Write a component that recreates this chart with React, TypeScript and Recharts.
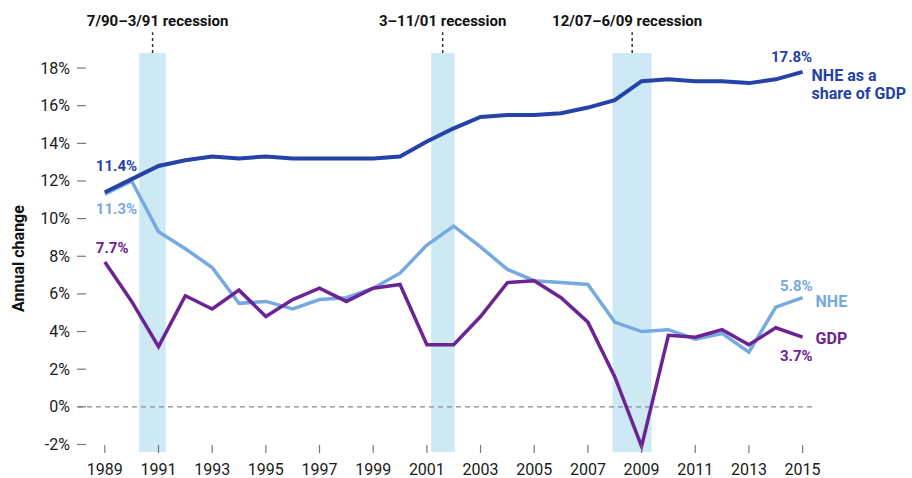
import React from "react";
import {
  LineChart,
  Line,
  XAxis,
  YAxis,
  ReferenceArea,
  ReferenceLine,
  Label,
} from "recharts";

// years on the x axis
const years = [
  1989, 1990, 1991, 1992, 1993, 1994, 1995, 1996, 1997, 1998, 1999, 2000, 2001, 2002,
  2003, 2004, 2005, 2006, 2007, 2008, 2009, 2010, 2011, 2012, 2013, 2014, 2015,
];

// NHE as a share of GDP
const nheShare = [
  11.4, 12.1, 12.8, 13.1, 13.3, 13.2, 13.3, 13.2, 13.2, 13.2, 13.2, 13.3, 14.1, 14.8,
  15.4, 15.5, 15.5, 15.6, 15.9, 16.3, 17.3, 17.4, 17.3, 17.3, 17.2, 17.4, 17.8,
];

// NHE annual change
const nheGrowth = [
  11.3, 12.0, 9.3, 8.4, 7.4, 5.5, 5.6, 5.2, 5.7, 5.8, 6.3, 7.1, 8.6, 9.6,
  8.5, 7.3, 6.7, 6.6, 6.5, 4.5, 4.0, 4.1, 3.6, 3.9, 2.9, 5.3, 5.8,
];

// GDP annual change
const gdpGrowth = [
  7.7, 5.6, 3.2, 5.9, 5.2, 6.2, 4.8, 5.7, 6.3, 5.6, 6.3, 6.5, 3.3, 3.3,
  4.8, 6.6, 6.7, 5.8, 4.5, 1.6, -2.1, 3.8, 3.7, 4.1, 3.3, 4.2, 3.7,
];

const yTicks = [-2, 0, 2, 4, 6, 8, 10, 12, 14, 16, 18];
const xTicks = [1989, 1991, 1993, 1995, 1997, 1999, 2001, 2003, 2005, 2007, 2009, 2011, 2013, 2015];

// recession bands (start, end in fractional years) and their labels
const recessions = [
  { from: 1990.28, to: 1991.27, mark: 1990.78, label: "7/90\u20133/91 recession", shift: 5 },
  { from: 2001.16, to: 2002.04, mark: 2001.59, label: "3\u201311/01 recession", shift: 0 },
  { from: 2007.92, to: 2009.37, mark: 2008.65, label: "12/07\u20136/09 recession", shift: -5 },
];

const data = years.map((year, i) => ({
  year,
  share: nheShare[i],
  nhe: nheGrowth[i],
  gdp: gdpGrowth[i],
}));

const DARK = "#2442a8";
const LIGHT = "#76a9df";
const PURPLE = "#6c2393";
const BAND = "#cde9f4";
const FONT = "Roboto, 'DejaVu Sans', sans-serif";

const YTick = (props: any) => {
  const { x, y, payload } = props;
  return (
    <g>
      <line x1={x - 1} x2={x + 8} y1={y} y2={y} stroke="#777" strokeWidth={1.2} />
      <text
        x={x - 8}
        y={y}
        textAnchor="end"
        dominantBaseline="central"
        fontSize={16}
        fontFamily={FONT}
        fill="#1a1a1a"
      >
        {payload.value}%
      </text>
    </g>
  );
};

const XTick = (props: any) => {
  const { x, y, payload } = props;
  return (
    <g>
      <line x1={x} x2={x} y1={y - 7} y2={y + 1} stroke="#777" strokeWidth={1.2} />
      <text x={x} y={y + 23} textAnchor="middle" fontSize={16} fontFamily={FONT} fill="#1a1a1a">
        {payload.value}
      </text>
    </g>
  );
};

// label text at given offset from a point
const tag = (x: number, y: number, text: string, color: string, anchor: string, size = 15) => (
  <text
    key={text + x + y}
    x={x}
    y={y}
    textAnchor={anchor as any}
    dominantBaseline="central"
    fontSize={size}
    fontWeight={700}
    fontFamily={FONT}
    fill={color}
  >
    {text}
  </text>
);

const last = years.length - 1;

const shareLabels = (props: any) => {
  const { x, y, index } = props;
  if (index === 0) return <g>{tag(x - 9, y - 26, "11.4%", DARK, "start")}</g>;
  if (index === last)
    return (
      <g>
        {tag(x - 11, y - 15, "17.8%", DARK, "middle")}
        {tag(x + 9, y + 4, "NHE as a", DARK, "start", 16)}
        {tag(x + 9, y + 22, "share of GDP", DARK, "start", 16)}
      </g>
    );
  return <g />;
};

const nheLabels = (props: any) => {
  const { x, y, index } = props;
  if (index === 0) return <g>{tag(x - 9, y + 15, "11.3%", LIGHT, "start")}</g>;
  if (index === last)
    return (
      <g>
        {tag(x + 10, y - 12, "5.8%", LIGHT, "end")}
        {tag(x + 13, y + 4, "NHE", LIGHT, "start", 16)}
      </g>
    );
  return <g />;
};

const gdpLabels = (props: any) => {
  const { x, y, index } = props;
  if (index === 0) return <g>{tag(x - 9, y - 14, "7.7%", PURPLE, "start")}</g>;
  if (index === last)
    return (
      <g>
        {tag(x + 13, y + 1, "GDP", PURPLE, "start", 16)}
        {tag(x + 10, y + 19, "3.7%", PURPLE, "end")}
      </g>
    );
  return <g />;
};

const recessionLabel = (text: string, shift: number) => (props: any) => {
  const vb = props.viewBox || { x: 0, y: 0 };
  return (
    <text
      x={vb.x + shift}
      y={vb.y - 6}
      textAnchor="middle"
      fontSize={15}
      fontWeight={700}
      fontFamily={FONT}
      fill="#111"
    >
      {text}
    </text>
  );
};

const yLabel = (props: any) => {
  const vb = props.viewBox || { x: 0, y: 0, height: 0 };
  const cy = vb.y + vb.height / 2 + 6;
  return (
    <text
      x={18}
      y={cy}
      transform={`rotate(-90, 18, ${cy})`}
      textAnchor="middle"
      dominantBaseline="central"
      fontSize={16}
      fontWeight={700}
      fontFamily={FONT}
      fill="#111"
    >
      Annual change
    </text>
  );
};

export default function App() {
  return (
    <div style={{ position: "absolute", left: 0, top: 0, width: 912, height: 478, background: "#fff" }}>
      <LineChart
        width={912}
        height={478}
        data={data}
        margin={{ top: 53, right: 96, bottom: 0, left: 0 }}
      >
        <XAxis
          dataKey="year"
          type="number"
          domain={[1988, 2015.5]}
          ticks={xTicks}
          allowDataOverflow
          axisLine={false}
          tickLine={false}
          tickSize={0}
          tickMargin={0}
          height={26}
          tick={<XTick />}
        />
        <YAxis
          type="number"
          domain={[-2.4, 18.8]}
          ticks={yTicks}
          allowDataOverflow
          axisLine={false}
          tickLine={false}
          tickSize={0}
          tickMargin={0}
          width={78}
          tick={<YTick />}
        >
          <Label content={yLabel} />
        </YAxis>
        {recessions.map((r) => (
          <ReferenceArea
            key={r.label}
            x1={r.from}
            x2={r.to}
            fill={BAND}
            fillOpacity={1}
            stroke="none"
            ifOverflow="visible"
          />
        ))}
        {recessions.map((r) => (
          <ReferenceLine
            key={"m" + r.label}
            segment={[
              { x: r.mark, y: 18.8 },
              { x: r.mark, y: 19.9 },
            ]}
            stroke="#333"
            strokeWidth={1.5}
            strokeDasharray="3 3"
            ifOverflow="visible"
            label={recessionLabel(r.label, r.shift)}
          />
        ))}
        <ReferenceLine y={0} stroke="#8a8a8a" strokeWidth={1.3} strokeDasharray="5 4" />
        <Line
          dataKey="nhe"
          stroke={LIGHT}
          strokeWidth={3.5}
          dot={false}
          isAnimationActive={false}
          label={nheLabels}
        />
        <Line
          dataKey="gdp"
          stroke={PURPLE}
          strokeWidth={3.5}
          dot={false}
          isAnimationActive={false}
          label={gdpLabels}
        />
        <Line
          dataKey="share"
          stroke={DARK}
          strokeWidth={4}
          dot={false}
          isAnimationActive={false}
          label={shareLabels}
        />
      </LineChart>
    </div>
  );
}
